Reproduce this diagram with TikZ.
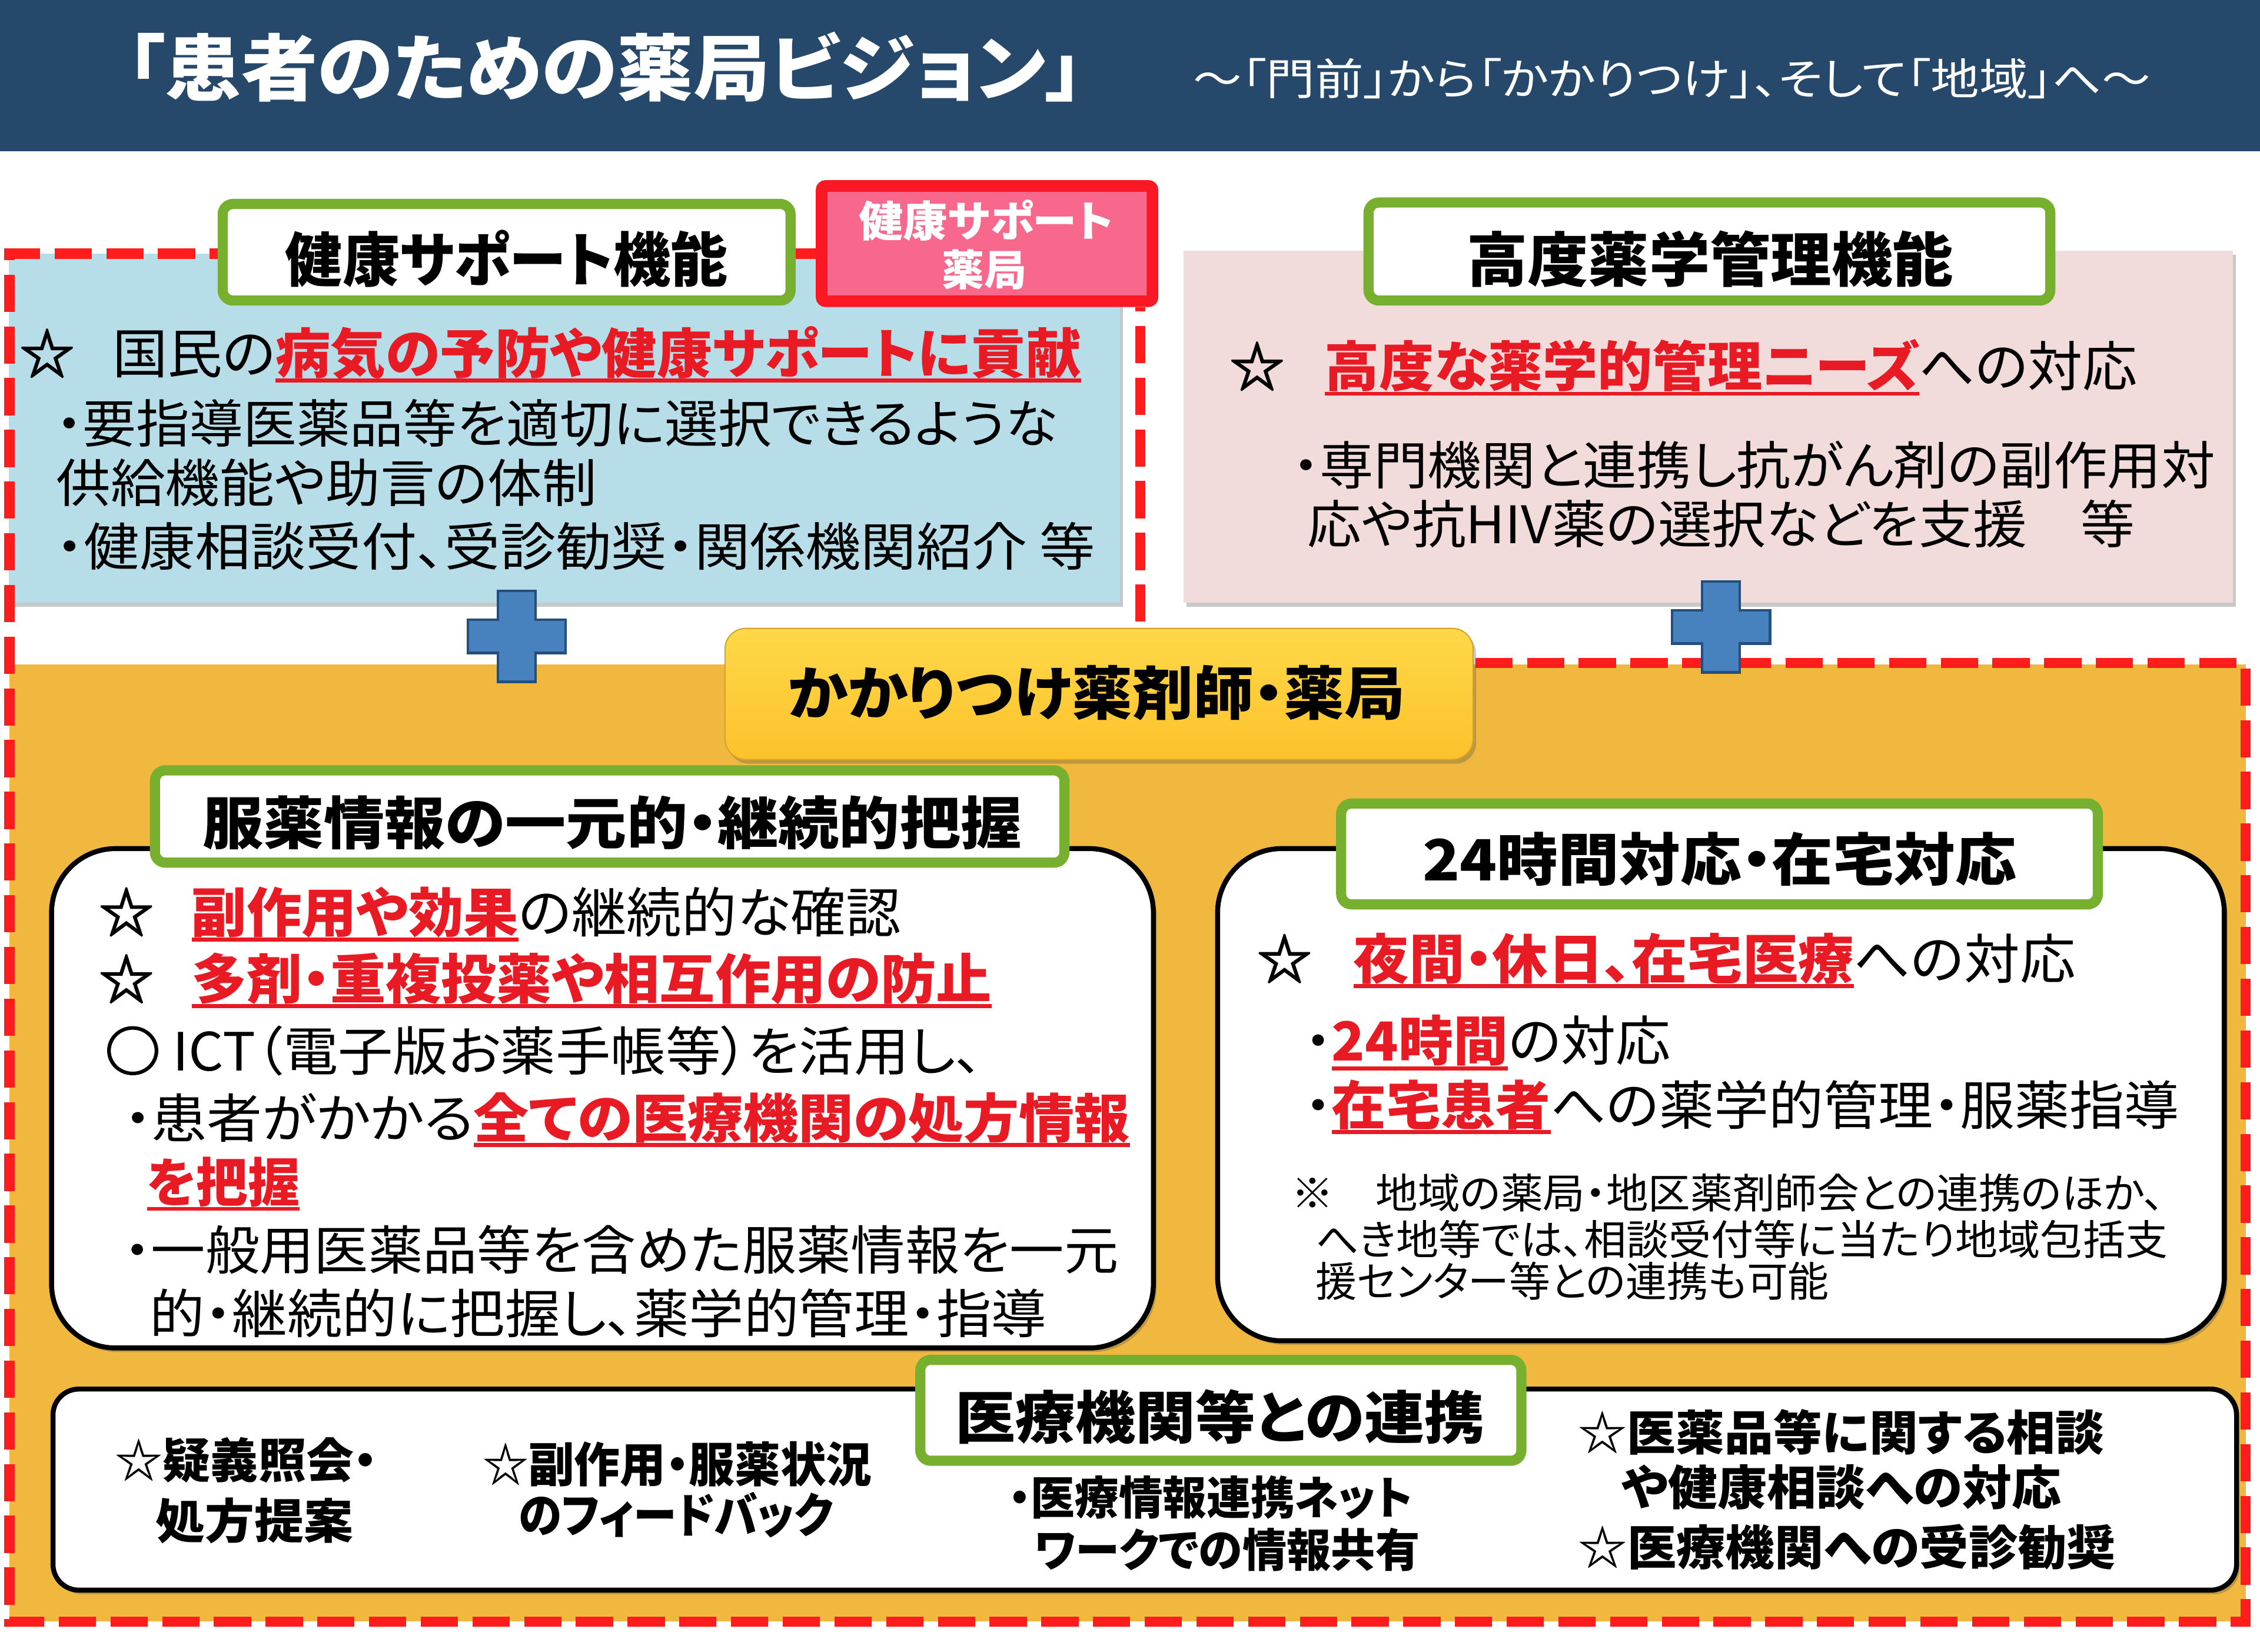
\documentclass[tikz,border=0pt]{standalone}
\usepackage{fontspec}
\setmainfont{Noto Sans CJK JP}[RawFeature=+palt]
\newfontfamily\starfont{Noto Sans CJK JP}[FakeBold=3]
\usepackage{graphicx}
\usetikzlibrary{shadows}
\newdimen\pxu \pxu=0.6968pt
\newcommand\pxd{*0.6968pt}
\newcommand\fw[2]{\resizebox{#1\pxu}{\height}{#2}}
\newcommand\fsz[1]{\fontsize{#1}{#1}\selectfont}
\definecolor{navy}{RGB}{38,72,106}
\definecolor{txtred}{RGB}{232,26,36}
\definecolor{dashred}{RGB}{255,28,28}
\definecolor{grn}{RGB}{118,176,46}
\definecolor{lblue}{RGB}{183,222,232}
\definecolor{lpink}{RGB}{242,220,219}
\definecolor{orng}{RGB}{240,184,62}
\definecolor{pinkfill}{RGB}{247,104,140}
\definecolor{pinkbd}{RGB}{250,24,36}
\definecolor{crossbl}{RGB}{72,130,190}
\definecolor{crossbd}{RGB}{36,78,126}
\definecolor{yeltop}{RGB}{255,216,72}
\definecolor{yelbot}{RGB}{252,194,44}
\newcommand\redul[1]{{\color{txtred}\bfseries\setbox0=\hbox{#1}\rlap{\rule[-0.17em]{\wd0}{0.075em}}\box0}}
\tikzset{
  txt/.style={anchor=base west, inner sep=0pt, outer sep=0pt},
  ctr/.style={anchor=base, inner sep=0pt, outer sep=0pt},
  area/.style={rectangle, inner sep=0pt, outer sep=0pt},
  starmark/.style={txt, font=\fsz{26}\starfont},
  shd/.style={drop shadow={shadow xshift=1.5pt, shadow yshift=-2pt, opacity=0.3, fill=black!70}},
  gbox/.style={area, draw=grn, line width=4.9pt, fill=white, rounded corners=5pt, shd},
  wbox/.style={area, draw=black, line width=2.4pt, fill=white, rounded corners=31pt, shd},
  dashline/.style={draw=dashred, line width=4.9pt, dash pattern=on 18pt off 7pt},
  crossmark/.pic={
    \path[draw=crossbd, fill=crossbl, line width=1.2pt]
      (-13,-31.5) -- (13,-31.5) -- (13,-11.5) -- (34,-11.5) -- (34,11.5) -- (13,11.5)
      -- (13,31.5) -- (-13,31.5) -- (-13,11.5) -- (-34,11.5) -- (-34,-11.5) -- (-13,-11.5) -- cycle;
  }
}
\begin{document}
\begin{tikzpicture}[x=0.02449cm, y=-0.02449cm]
\useasboundingbox (0,0) rectangle (1568,1146);
\fill[white] (0,0) rectangle (1568,1146);

% header
\node[area, fill=navy, minimum width=1568\pxd, minimum height=105\pxd] (header) at (784,52.5) {};
\node[txt, text=white, font=\fsz{35}\bfseries] (title) at (88,65.8) {\fw{664}{「患者のための薬局ビジョン」}};
\node[txt, text=white, font=\fsz{21}] (subtitle) at (828,66) {\fw{664}{～「門前」から「かかりつけ」、そして「地域」へ～}};

% background areas
\node[area, fill=orng, minimum width=1551.5\pxd, minimum height=664\pxd] (orange) at (782.25,793) {};
\node[area, fill=lblue, shd, minimum width=771\pxd, minimum height=242\pxd] (hsBox) at (391.5,297) {};
\node[area, fill=lpink, shd, minimum width=728\pxd, minimum height=244\pxd] (hpBox) at (1185,296) {};

% dashed outline
\coordinate (d0) at (566,176);
\coordinate (d1) at (6.5,176);
\coordinate (d2) at (6.5,1125);
\coordinate (d3) at (1558,1125);
\coordinate (d4) at (1558,460);
\coordinate (d5) at (791,460);
\coordinate (d6) at (791,213);
\draw[dashline] (d0) -- (d1) -- (d2) -- (d3) -- (d4) -- (d5) -- (d6);

% plus marks
\pic (crossL) at (358.5,441.5) {crossmark};
\pic (crossR) at (1194,435) {crossmark};

% top title boxes
\node[gbox, minimum width=394\pxd, minimum height=67\pxd] (hsTitle) at (351.5,175) {};
\node[txt, font=\fsz{28.5}\bfseries] (hsTitleT) at (198,195.5) {\fw{307}{健康サポート機能}};
\node[gbox, minimum width=473\pxd, minimum height=68\pxd] (hpTitle) at (1186,174.5) {};
\node[txt, font=\fsz{28.5}\bfseries] (hpTitleT) at (1017.6,195.5) {\fw{337.5}{高度薬学管理機能}};

% pink label
\node[area, draw=pinkbd, fill=pinkfill, line width=5.6pt, rounded corners=2pt, minimum width=229.6\pxd, minimum height=80\pxd] (hsLabel) at (684.8,169) {};
\node[ctr, text=white, font=\fsz{20.5}\bfseries] (hsLabelA) at (684.3,164.2) {\fw{176.6}{健康サポート}};
\node[ctr, text=white, font=\fsz{20.5}\bfseries] (hsLabelB) at (682.8,198.2) {薬局};

% health support text
\node[starmark] (s1) at (14,259.2) {☆};
\node[txt, font=\fsz{26}] (hs1) at (78,259.2) {\fw{672}{国民の\redul{病気の予防や健康サポートに貢献}}};
\node[txt, font=\fsz{25}] (hs2) at (39,307.1) {\fw{695}{・要指導医薬品等を適切に選択できるような}};
\node[txt, font=\fsz{25}] (hs3) at (39,348.6) {\fw{375}{供給機能や助言の体制}};
\node[txt, font=\fsz{25}] (hs4) at (39,392.6) {\fw{721}{・健康相談受付、受診勧奨・関係機関紹介 等}};

% advanced management text
\node[starmark] (s2) at (853.5,268.2) {☆};
\node[txt, font=\fsz{26}] (hp1) at (919,268.2) {\fw{564}{\redul{高度な薬学的管理ニーズ}への対応}};
\node[txt, font=\fsz{25}] (hp2) at (897,336.2) {\fw{640}{・専門機関と連携し抗がん剤の副作用対}};
\node[txt, font=\fsz{25}] (hp3) at (907,377) {\fw{574}{応や抗HIV薬の選択などを支援　等}};

% kakaritsuke
\node[area, top color=yeltop, bottom color=yelbot, draw=yelbot!85!black, line width=0.6pt, rounded corners=10pt, shd, minimum width=519\pxd, minimum height=91\pxd] (kakari) at (762.5,481.5) {};
\node[txt, font=\fsz{28}\bfseries] (kakariT) at (546.5,496) {\fw{428.5}{かかりつけ薬剤師・薬局}};

% left content box
\node[wbox, minimum width=764.5\pxd, minimum height=346.5\pxd] (lBox) at (418,762) {};
\node[gbox, minimum width=631\pxd, minimum height=64\pxd] (lTitle) at (423,566.5) {};
\node[txt, font=\fsz{27.5}\bfseries] (lTitleT) at (140.6,585.6) {\fw{568}{服薬情報の一元的・継続的把握}};
\node[starmark] (s3) at (69,646.8) {☆};
\node[txt, font=\fsz{26}] (c1) at (133,646.8) {\fw{492}{\redul{副作用や効果}の継続的な確認}};
\node[starmark] (s4) at (69,693.2) {☆};
\node[txt, font=\fsz{26}] (c2) at (133,693.2) {\fw{555}{\redul{多剤・重複投薬や相互作用の防止}}};
\node[txt, font=\fsz{25.5}] (c3) at (73,742.9) {\fw{609}{{\starfont ○} ICT（電子版お薬手帳等）を活用し、}};
\node[txt, font=\fsz{25.5}] (c4) at (86,789.5) {\fw{698}{・患者がかかる\redul{全ての医療機関の処方情報}}};
\node[txt, font=\fsz{25.5}] (c5) at (102,833.9) {\fw{106}{\redul{を把握}}};
\node[txt, font=\fsz{25.5}] (c6) at (86,880.9) {\fw{690}{・一般用医薬品等を含めた服薬情報を一元}};
\node[txt, font=\fsz{25.5}] (c7) at (104,924.9) {\fw{622}{的・継続的に把握し、薬学的管理・指導}};

% right content box
\node[wbox, minimum width=698.5\pxd, minimum height=341.5\pxd] (rBox) at (1194,759.5) {};
\node[gbox, minimum width=525\pxd, minimum height=70\pxd] (rTitle) at (1193,592.5) {};
\node[txt, font=\fsz{27.5}\bfseries] (rTitleT) at (987,611) {\fw{412}{24時間対応・在宅対応}};
\node[starmark] (s5) at (872.5,679.2) {☆};
\node[txt, font=\fsz{26}] (r1) at (939,679.2) {\fw{501}{\redul{夜間・休日、在宅医療}への対応}};
\node[txt, font=\fsz{26}] (r2) at (905,736.2) {\fw{254}{・\redul{24時間}の対応}};
\node[txt, font=\fsz{25.5}] (r3) at (905,780.5) {\fw{607}{・\redul{在宅患者}への薬学的管理・服薬指導}};
\node[txt, font=\fsz{20}] (r4) at (896,838.6) {\fw{606}{※　地域の薬局・地区薬剤師会との連携のほか、}};
\node[txt, font=\fsz{20}] (r5) at (913,870.9) {\fw{591}{へき地等では、相談受付等に当たり地域包括支}};
\node[txt, font=\fsz{20}] (r6) at (913,899.9) {\fw{356}{援センター等との連携も可能}};

% bottom box
\node[wbox, rounded corners=12.5pt, minimum width=1515\pxd, minimum height=139.5\pxd] (bBox) at (794.25,1033.5) {};
\node[gbox, minimum width=417\pxd, minimum height=70\pxd] (bTitle) at (847,978.5) {};
\node[txt, font=\fsz{27.5}\bfseries] (bTitleT) at (663,998) {\fw{367}{医療機関等との連携}};
\node[txt, font=\fsz{23}\bfseries] (b1a) at (80,1025.5) {\fw{182}{☆疑義照会・}};
\node[txt, font=\fsz{23}\bfseries] (b1b) at (108,1067.5) {\fw{137}{処方提案}};
\node[txt, font=\fsz{23}\bfseries] (b2a) at (335,1028.5) {\fw{270}{☆副作用・服薬状況}};
\node[txt, font=\fsz{23}\bfseries] (b2b) at (360,1063.5) {\fw{218}{のフィードバック}};
\node[txt, font=\fsz{22}\bfseries] (b3a) at (700,1051) {\fw{280}{・医療情報連携ネット}};
\node[txt, font=\fsz{22}\bfseries] (b3b) at (718,1087) {\fw{267}{ワークでの情報共有}};
\node[txt, font=\fsz{23}\bfseries] (b4a) at (1095,1006.5) {\fw{365}{☆医薬品等に関する相談}};
\node[txt, font=\fsz{23}\bfseries] (b4b) at (1125,1044.2) {\fw{305}{や健康相談への対応}};
\node[txt, font=\fsz{23}\bfseries] (b4c) at (1095,1086.1) {\fw{373}{☆医療機関への受診勧奨}};
\end{tikzpicture}
\end{document}
